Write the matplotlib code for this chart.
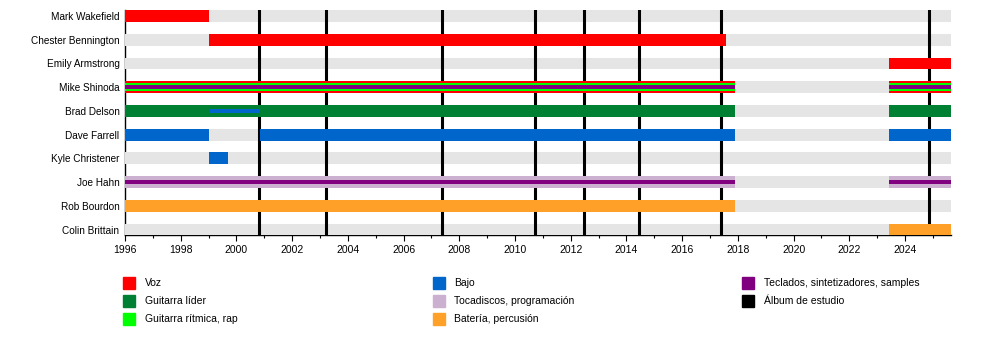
import matplotlib.pyplot as plt
from matplotlib.patches import Rectangle
from matplotlib.ticker import MultipleLocator

plt.rcParams['font.family'] = ['Liberation Sans', 'DejaVu Sans']

# members, top to bottom
members = ["Mark Wakefield", "Chester Bennington", "Emily Armstrong", "Mike Shinoda",
           "Brad Delson", "Dave Farrell", "Kyle Christener", "Joe Hahn",
           "Rob Bourdon", "Colin Brittain"]

# roles (legend order)
roles = ["Voz", "Guitarra líder", "Guitarra rítmica, rap", "Bajo",
         "Tocadiscos, programación", "Batería, percusión",
         "Teclados, sintetizadores, samples"]
role_colors = ["#ff0000", "#008033", "#00ff00", "#0066cc",
               "#ccb0d0", "#ffa028", "#800080"]

# roles of each member, widest bar first
member_roles = {
    "Mark Wakefield": ["Voz"],
    "Chester Bennington": ["Voz"],
    "Emily Armstrong": ["Voz"],
    "Mike Shinoda": ["Voz", "Guitarra rítmica, rap", "Teclados, sintetizadores, samples"],
    "Brad Delson": ["Guitarra líder", "Bajo"],
    "Dave Farrell": ["Bajo"],
    "Kyle Christener": ["Bajo"],
    "Joe Hahn": ["Tocadiscos, programación", "Teclados, sintetizadores, samples"],
    "Rob Bourdon": ["Batería, percusión"],
    "Colin Brittain": ["Batería, percusión"],
}

start_year = 1996
end_year = 2025.65

# stints: member, role, start, end
stint_member = ["Mark Wakefield", "Chester Bennington", "Emily Armstrong",
                "Mike Shinoda", "Mike Shinoda", "Mike Shinoda",
                "Mike Shinoda", "Mike Shinoda", "Mike Shinoda",
                "Brad Delson", "Brad Delson", "Brad Delson",
                "Dave Farrell", "Dave Farrell", "Dave Farrell",
                "Kyle Christener",
                "Joe Hahn", "Joe Hahn", "Joe Hahn", "Joe Hahn",
                "Rob Bourdon", "Colin Brittain"]
stint_role = ["Voz", "Voz", "Voz",
              "Voz", "Guitarra rítmica, rap", "Teclados, sintetizadores, samples",
              "Voz", "Guitarra rítmica, rap", "Teclados, sintetizadores, samples",
              "Guitarra líder", "Bajo", "Guitarra líder",
              "Bajo", "Bajo", "Bajo",
              "Bajo",
              "Tocadiscos, programación", "Teclados, sintetizadores, samples",
              "Tocadiscos, programación", "Teclados, sintetizadores, samples",
              "Batería, percusión", "Batería, percusión"]
stint_start = [1996.0, 1999.0, 2023.42,
               1996.0, 1996.0, 1996.0,
               2023.42, 2023.42, 2023.42,
               1996.0, 1999.0, 2023.42,
               1996.0, 2000.83, 2023.42,
               1999.0,
               1996.0, 1996.0, 2023.42, 2023.42,
               1996.0, 2023.42]
stint_end = [1999.0, 2017.57, end_year,
             2017.89, 2017.89, 2017.89,
             end_year, end_year, end_year,
             2017.89, 2000.83, end_year,
             1999.0, 2017.89, end_year,
             1999.69,
             2017.89, 2017.89, end_year, end_year,
             2017.89, end_year]

# studio albums
albums = [2000.81, 2003.23, 2007.37, 2010.70, 2012.48, 2014.45, 2017.38, 2024.87]

fig = plt.figure(figsize=(10, 3.6), dpi=100)
ax = fig.add_axes([0.125, 0.346, 0.826, 0.626])

full_h = 0.5
for i, m in enumerate(members):
    ax.barh(i, end_year - start_year, left=start_year, height=full_h,
            color="#e5e5e5", zorder=1)

for x in albums:
    ax.axvline(x, color="black", lw=2.2, zorder=2)

for m, r, s, e in zip(stint_member, stint_role, stint_start, stint_end):
    rl = member_roles[m]
    k = rl.index(r)
    n = len(rl)
    if k == 0:
        h = full_h
    elif k == n - 1:
        h = full_h / 3
    else:
        h = full_h * 2 / 3
    ax.barh(members.index(m), e - s, left=s, height=h,
            color=role_colors[roles.index(r)], zorder=3 + k)

ax.set_xlim(start_year, end_year)
ax.set_ylim(len(members) - 1 + full_h / 2, -full_h / 2)
ax.set_yticks(range(len(members)))
ax.set_yticklabels(members, fontsize=7.2)
ax.tick_params(axis='y', length=0, pad=4)
ax.xaxis.set_major_locator(MultipleLocator(2))
ax.xaxis.set_minor_locator(MultipleLocator(1))
ax.tick_params(axis='x', which='major', length=4, width=0.8, labelsize=7.5, pad=3)
ax.tick_params(axis='x', which='minor', length=2.5, width=0.8)
ax.spines['top'].set_visible(False)
ax.spines['right'].set_visible(False)
ax.spines['left'].set_linewidth(1)
ax.spines['bottom'].set_linewidth(1)
for sp in ax.spines.values():
    sp.set_zorder(0)

# legend, three columns
leg_labels = roles[:6] + [roles[6], "Álbum de estudio"]
leg_colors = role_colors[:6] + [role_colors[6], "black"]
for j, (lab, col) in enumerate(zip(leg_labels, leg_colors)):
    c, r = divmod(j, 3)
    x0 = 123 + c * 309.5
    y0 = 277 + r * 18
    fig.add_artist(Rectangle((x0 / 1000, 1 - (y0 + 12) / 360), 12 / 1000, 12 / 360,
                             transform=fig.transFigure, color=col))
    fig.text((x0 + 22) / 1000, 1 - (y0 + 6) / 360, lab, fontsize=7.5, va='center')

fig.savefig("out.png", dpi=100)
